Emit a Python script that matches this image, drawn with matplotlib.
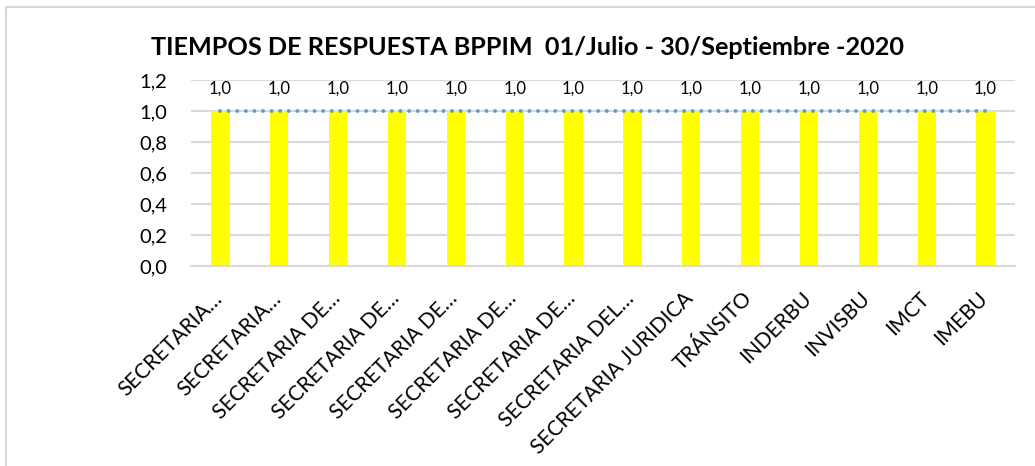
import numpy as np
import matplotlib.pyplot as plt
import matplotlib.transforms as mtransforms
from matplotlib.lines import Line2D

plt.rcParams['font.family'] = ['Lato', 'DejaVu Sans']

categorias = ['SECRETARIA…', 'SECRETARIA…', 'SECRETARIA DE…', 'SECRETARIA DE…',
              'SECRETARIA DE…', 'SECRETARIA DE…', 'SECRETARIA DE…', 'SECRETARIA DEL…',
              'SECRETARIA JURIDICA', 'TRÁNSITO', 'INDERBU', 'INVISBU', 'IMCT', 'IMEBU']
tiempos = [1.0, 1.0, 1.0, 1.0, 1.0, 1.0, 1.0, 1.0, 1.0, 1.0, 1.0, 1.0, 1.0, 1.0]
meta = [1.0] * len(categorias)
yticks = [0.0, 0.2, 0.4, 0.6, 0.8, 1.0, 1.2]

fig = plt.figure(figsize=(10.35, 4.66), dpi=100)
ax = fig.add_axes([0.1845, 0.4292, 0.7962, 0.3991])

x = np.arange(len(categorias))
ax.bar(x, tiempos, width=0.31, color='#FFFF00', zorder=2)
ax.plot(x, meta, color='#5B9BD5', lw=2.8, linestyle=(0, (0.01, 2.2)),
        dash_capstyle='round', zorder=3)

for xi, v in zip(x, tiempos):
    ax.annotate(f'{v:.1f}'.replace('.', ','), (xi, v), xytext=(0, 16),
                textcoords='offset points', ha='center', va='center', fontsize=12)

ax.set_xlim(-0.5, len(categorias) - 0.5)
ax.set_ylim(0, 1.2)
ax.set_yticks(yticks)
ax.set_yticklabels([f'{t:.1f}'.replace('.', ',') for t in yticks], fontsize=14.5)
ax.yaxis.grid(True, color='#D9D9D9', lw=1.5, zorder=0)
ax.set_axisbelow(True)
for s in ['top', 'right', 'left']:
    ax.spines[s].set_visible(False)
ax.spines['bottom'].set_color('#D9D9D9')
ax.spines['bottom'].set_linewidth(1.5)
ax.tick_params(axis='both', length=0)
ax.tick_params(axis='y', pad=17)
ax.tick_params(axis='x', pad=16)

ax.set_xticks(x)
ax.set_xticklabels(categorias, rotation=45, ha='right', va='top', fontsize=15)
offset = mtransforms.ScaledTranslation(6 / 100, 0, fig.dpi_scale_trans)
for lbl in ax.get_xticklabels():
    lbl.set_transform(lbl.get_transform() + offset)

fig.text(0.510, 0.899, 'TIEMPOS DE RESPUESTA BPPIM  01/Julio - 30/Septiembre -2020',
         ha='center', va='center', fontsize=18.2, fontweight='bold')

# marco del gráfico
fig.add_artist(Line2D([0.006, 1.0], [0.985, 0.985], color='#D9D9D9', lw=1.5,
                      transform=fig.transFigure))
fig.add_artist(Line2D([0.006, 0.006], [0.0, 0.985], color='#D9D9D9', lw=1.5,
                      transform=fig.transFigure))

fig.savefig('out.png', dpi=100)
